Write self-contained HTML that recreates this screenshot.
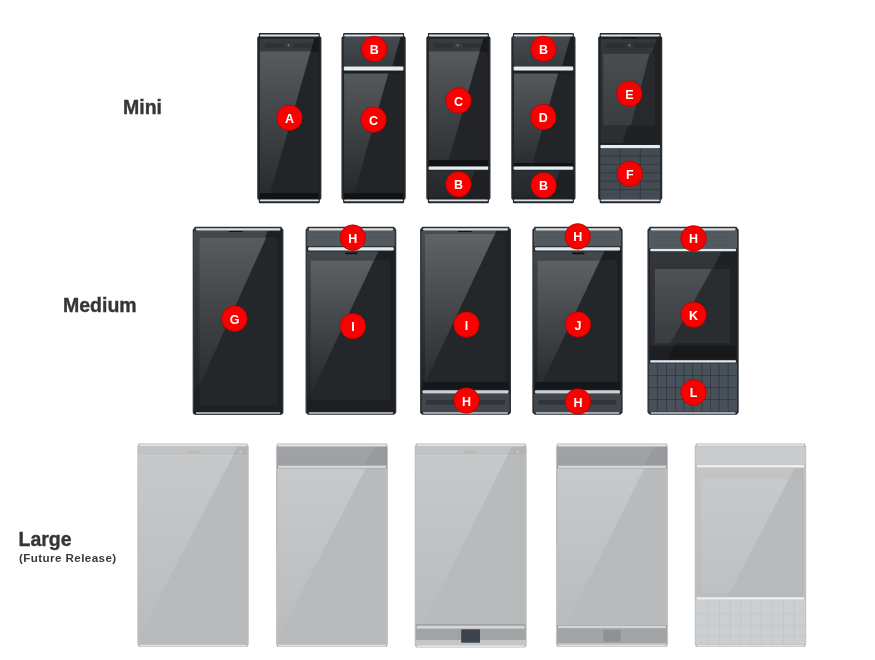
<!DOCTYPE html><html><head><meta charset="utf-8"><style>html,body{margin:0;padding:0;background:#fff;overflow:hidden}svg{display:block;filter:blur(0.45px)}</style></head><body><svg width="875" height="660" viewBox="0 0 875 660"><defs><clipPath id="c1"><rect x="259.8" y="38.4" width="59.0" height="154.9" rx="0"/></clipPath><linearGradient id="g1" x1="0" y1="0" x2="0" y2="1"><stop offset="0" stop-color="#5c5f62"/><stop offset="1" stop-color="#292c2f"/></linearGradient><clipPath id="c2"><rect x="343.6" y="36.8" width="60.0" height="29.60000000000001" rx="1.5"/></clipPath><linearGradient id="g2" x1="0" y1="0" x2="0" y2="1"><stop offset="0" stop-color="#454a50"/><stop offset="1" stop-color="#363b40"/></linearGradient><clipPath id="c3"><rect x="344.1" y="71" width="59.0" height="122.30000000000001" rx="0"/></clipPath><linearGradient id="g3" x1="0" y1="0" x2="0" y2="1"><stop offset="0" stop-color="#575a5d"/><stop offset="1" stop-color="#26292c"/></linearGradient><clipPath id="c4"><rect x="428.9" y="38.4" width="59.0" height="124.6" rx="0"/></clipPath><linearGradient id="g4" x1="0" y1="0" x2="0" y2="1"><stop offset="0" stop-color="#5c5f62"/><stop offset="1" stop-color="#2e3134"/></linearGradient><clipPath id="c5"><rect x="428.4" y="171" width="60.0" height="26.5" rx="1.5"/></clipPath><linearGradient id="g5" x1="0" y1="0" x2="0" y2="1"><stop offset="0" stop-color="#2c2f33"/><stop offset="1" stop-color="#25282b"/></linearGradient><clipPath id="c6"><rect x="513.4" y="36.8" width="60.0" height="29.60000000000001" rx="1.5"/></clipPath><linearGradient id="g6" x1="0" y1="0" x2="0" y2="1"><stop offset="0" stop-color="#454a50"/><stop offset="1" stop-color="#363b40"/></linearGradient><clipPath id="c7"><rect x="513.9" y="71" width="59.0" height="92" rx="0"/></clipPath><linearGradient id="g7" x1="0" y1="0" x2="0" y2="1"><stop offset="0" stop-color="#575a5d"/><stop offset="1" stop-color="#2b2e31"/></linearGradient><clipPath id="c8"><rect x="513.4" y="171" width="60.0" height="26.5" rx="1.5"/></clipPath><linearGradient id="g8" x1="0" y1="0" x2="0" y2="1"><stop offset="0" stop-color="#2c2f33"/><stop offset="1" stop-color="#25282b"/></linearGradient><clipPath id="c9"><rect x="600.7" y="38.4" width="59.0" height="104.6" rx="0"/></clipPath><linearGradient id="g9" x1="0" y1="0" x2="0" y2="1"><stop offset="0" stop-color="#34373a"/><stop offset="1" stop-color="#2b2e31"/></linearGradient><clipPath id="c10"><rect x="603.2" y="53.6" width="52.0" height="71.9" rx="0"/></clipPath><linearGradient id="g10" x1="0" y1="0" x2="0" y2="1"><stop offset="0" stop-color="#4a4d50"/><stop offset="1" stop-color="#3a3d40"/></linearGradient><clipPath id="c11"><rect x="194.0" y="230.5" width="88.10000000000002" height="181.5" rx="0"/></clipPath><linearGradient id="g11" x1="0" y1="0" x2="0" y2="1"><stop offset="0" stop-color="#46494c"/><stop offset="1" stop-color="#1c1f21"/></linearGradient><clipPath id="c12"><rect x="199.3" y="237.2" width="78.5" height="167.8" rx="0"/></clipPath><linearGradient id="g12" x1="0" y1="0" x2="0" y2="1"><stop offset="0" stop-color="#595c5f"/><stop offset="1" stop-color="#232628"/></linearGradient><clipPath id="c13"><rect x="306.9" y="251.2" width="88.10000000000002" height="159.8" rx="0"/></clipPath><linearGradient id="g13" x1="0" y1="0" x2="0" y2="1"><stop offset="0" stop-color="#45484b"/><stop offset="1" stop-color="#1d1f22"/></linearGradient><clipPath id="c14"><rect x="310.7" y="260.2" width="80.0" height="140.3" rx="0"/></clipPath><linearGradient id="g14" x1="0" y1="0" x2="0" y2="1"><stop offset="0" stop-color="#5e6164"/><stop offset="1" stop-color="#232628"/></linearGradient><clipPath id="c15"><rect x="421.2" y="230.5" width="88.60000000000002" height="159.5" rx="0"/></clipPath><linearGradient id="g15" x1="0" y1="0" x2="0" y2="1"><stop offset="0" stop-color="#4a4d50"/><stop offset="1" stop-color="#1f2224"/></linearGradient><clipPath id="c16"><rect x="425" y="234" width="80.5" height="148" rx="0"/></clipPath><linearGradient id="g16" x1="0" y1="0" x2="0" y2="1"><stop offset="0" stop-color="#606366"/><stop offset="1" stop-color="#2a2d2f"/></linearGradient><clipPath id="c17"><rect x="533.7" y="251.2" width="87.59999999999991" height="138.8" rx="0"/></clipPath><linearGradient id="g17" x1="0" y1="0" x2="0" y2="1"><stop offset="0" stop-color="#45484b"/><stop offset="1" stop-color="#1f2224"/></linearGradient><clipPath id="c18"><rect x="537.5" y="260.2" width="79.5" height="121.80000000000001" rx="0"/></clipPath><linearGradient id="g18" x1="0" y1="0" x2="0" y2="1"><stop offset="0" stop-color="#5e6164"/><stop offset="1" stop-color="#2a2d2f"/></linearGradient><clipPath id="c19"><rect x="650.1" y="252" width="86.0" height="108" rx="0"/></clipPath><linearGradient id="g19" x1="0" y1="0" x2="0" y2="1"><stop offset="0" stop-color="#34373a"/><stop offset="1" stop-color="#26292c"/></linearGradient><clipPath id="c20"><rect x="654.8000000000001" y="268.9" width="75.5" height="74.60000000000002" rx="0"/></clipPath><linearGradient id="g20" x1="0" y1="0" x2="0" y2="1"><stop offset="0" stop-color="#4f5255"/><stop offset="1" stop-color="#393c3f"/></linearGradient><clipPath id="c21"><rect x="138.3" y="446.5" width="109.5" height="198.5" rx="0"/></clipPath><linearGradient id="g21" x1="0" y1="0" x2="0" y2="1"><stop offset="0" stop-color="#c8c9ca"/><stop offset="1" stop-color="#babbbc"/></linearGradient><clipPath id="c22"><rect x="277" y="446.5" width="110" height="18.5" rx="0"/></clipPath><linearGradient id="g22" x1="0" y1="0" x2="0" y2="1"><stop offset="0" stop-color="#a1a3a5"/><stop offset="1" stop-color="#9d9fa2"/></linearGradient><clipPath id="c23"><rect x="278" y="468.5" width="108" height="175.5" rx="0"/></clipPath><linearGradient id="g23" x1="0" y1="0" x2="0" y2="1"><stop offset="0" stop-color="#c8c9ca"/><stop offset="1" stop-color="#babbbc"/></linearGradient><clipPath id="c24"><rect x="415.7" y="446.5" width="110.00000000000006" height="177.70000000000005" rx="0"/></clipPath><linearGradient id="g24" x1="0" y1="0" x2="0" y2="1"><stop offset="0" stop-color="#c8c9ca"/><stop offset="1" stop-color="#babbbc"/></linearGradient><clipPath id="c25"><rect x="557" y="446.5" width="110" height="18.5" rx="0"/></clipPath><linearGradient id="g25" x1="0" y1="0" x2="0" y2="1"><stop offset="0" stop-color="#a1a3a5"/><stop offset="1" stop-color="#9d9fa2"/></linearGradient><clipPath id="c26"><rect x="558" y="468.5" width="108" height="156.5" rx="0"/></clipPath><linearGradient id="g26" x1="0" y1="0" x2="0" y2="1"><stop offset="0" stop-color="#c8c9ca"/><stop offset="1" stop-color="#babbbc"/></linearGradient><clipPath id="c27"><rect x="696.7" y="468" width="107.5" height="129" rx="0"/></clipPath><linearGradient id="g27" x1="0" y1="0" x2="0" y2="1"><stop offset="0" stop-color="#c3c4c5"/><stop offset="1" stop-color="#bcbdbe"/></linearGradient><clipPath id="c28"><rect x="701.3000000000001" y="478.3" width="100.0" height="114.99999999999994" rx="0"/></clipPath><linearGradient id="g28" x1="0" y1="0" x2="0" y2="1"><stop offset="0" stop-color="#c8c9ca"/><stop offset="1" stop-color="#bfc0c1"/></linearGradient></defs><rect width="875" height="660" fill="#ffffff"/>
<text x="123" y="113.5" font-family="Liberation Sans, sans-serif" font-weight="bold" font-size="19.5" fill="#353535" stroke="#353535" stroke-width="0.35">Mini</text>
<text x="63" y="312" font-family="Liberation Sans, sans-serif" font-weight="bold" font-size="19.5" fill="#353535" stroke="#353535" stroke-width="0.35">Medium</text>
<text x="18.5" y="546" font-family="Liberation Sans, sans-serif" font-weight="bold" font-size="19.5" fill="#353535" stroke="#353535" stroke-width="0.35">Large</text>
<text x="19" y="561.8" font-family="Liberation Sans, sans-serif" font-weight="bold" font-size="11.6" letter-spacing="0.42" fill="#3a3a3a">(Future Release)</text>
<rect x="257.3" y="36" width="64.00" height="164.00" rx="2.5" fill="#1f2225" />
<g clip-path="url(#c1)"><rect x="259.8" y="38.4" width="59.0" height="154.9" fill="#222427"/><polygon points="209.8,38.4 314.3,38.4 270.15,193.3 209.8,193.3" fill="url(#g1)"/></g>
<rect x="259.8" y="38.4" width="59.00" height="13.10" rx="0" fill="#0a0c0e" fill-opacity="0.42"/>
<rect x="264.8" y="43.2" width="19.50" height="4.60" rx="0" fill="#15181b" fill-opacity="0.25"/>
<rect x="293.3" y="43.2" width="20.00" height="4.60" rx="0" fill="#15181b" fill-opacity="0.25"/>
<circle cx="288.5" cy="45.2" r="1" fill="#7a7d80"/>
<rect x="259.8" y="193.3" width="59.00" height="6.00" rx="0" fill="#101214" />
<rect x="257.3" y="37" width="0.90" height="162.00" rx="0" fill="#4a4e52" fill-opacity="0.6"/>
<rect x="320.40000000000003" y="37" width="0.90" height="162.00" rx="0" fill="#4a4e52" fill-opacity="0.45"/>
<rect x="258.8" y="33" width="61.00" height="3.80" rx="1" fill="#25282c" />
<rect x="259.8" y="34.6" width="59.00" height="1.80" rx="0.8" fill="#dde4e8" />
<rect x="258.8" y="199.2" width="61.00" height="4.00" rx="1" fill="#25282c" />
<rect x="259.8" y="199.4" width="59.00" height="1.90" rx="0.8" fill="#dde4e8" />
<rect x="341.6" y="36" width="64.00" height="164.00" rx="2.5" fill="#1f2225" />
<g clip-path="url(#c2)"><rect x="343.6" y="36.8" width="60.0" height="29.60000000000001" fill="#1c1f22"/><polygon points="293.6,36.8 400.6,36.8 392.16,66.4 293.6,66.4" fill="url(#g2)"/></g>
<rect x="343.1" y="66.2" width="61.00" height="4.80" rx="1" fill="#25282c" />
<rect x="343.8" y="66.6" width="59.60" height="3.80" rx="1" fill="#e6edf1" />
<g clip-path="url(#c3)"><rect x="344.1" y="71" width="59.0" height="122.30000000000001" fill="#222427"/><polygon points="294.1,71 389.0,71 354.14,193.3 294.1,193.3" fill="url(#g3)"/></g>
<rect x="344.1" y="71" width="59.00" height="2.50" rx="0" fill="#1c1e20" />
<rect x="344.1" y="193.3" width="59.00" height="6.00" rx="0" fill="#101214" />
<rect x="341.6" y="37" width="0.90" height="162.00" rx="0" fill="#4a4e52" fill-opacity="0.6"/>
<rect x="404.70000000000005" y="37" width="0.90" height="162.00" rx="0" fill="#4a4e52" fill-opacity="0.45"/>
<rect x="343.1" y="33" width="61.00" height="3.80" rx="1" fill="#25282c" />
<rect x="344.1" y="34.6" width="59.00" height="1.80" rx="0.8" fill="#dde4e8" />
<rect x="343.1" y="199.2" width="61.00" height="4.00" rx="1" fill="#25282c" />
<rect x="344.1" y="199.4" width="59.00" height="1.90" rx="0.8" fill="#dde4e8" />
<rect x="426.4" y="36" width="64.00" height="164.00" rx="2.5" fill="#1f2225" />
<g clip-path="url(#c4)"><rect x="428.9" y="38.4" width="59.0" height="124.6" fill="#222427"/><polygon points="378.9,38.4 483.4,38.4 447.89,163 378.9,163" fill="url(#g4)"/></g>
<rect x="428.9" y="38.4" width="59.00" height="13.10" rx="0" fill="#0a0c0e" fill-opacity="0.42"/>
<rect x="433.9" y="43.2" width="19.50" height="4.60" rx="0" fill="#15181b" fill-opacity="0.25"/>
<rect x="462.4" y="43.2" width="20.00" height="4.60" rx="0" fill="#15181b" fill-opacity="0.25"/>
<circle cx="457.59999999999997" cy="45.2" r="1" fill="#7a7d80"/>
<rect x="428.9" y="160" width="59.00" height="6.00" rx="0" fill="#101214" />
<rect x="427.9" y="166" width="61.00" height="4.40" rx="1" fill="#25282c" />
<rect x="428.59999999999997" y="166.5" width="59.60" height="3.20" rx="1" fill="#e6edf1" />
<g clip-path="url(#c5)"><rect x="428.4" y="171" width="60.0" height="26.5" fill="#1e2023"/><polygon points="378.4,171 474.4,171 466.85,197.5 378.4,197.5" fill="url(#g5)"/></g>
<circle cx="458.4" cy="184.25" r="5.5" fill="none" stroke="#4a4e52" stroke-width="0.8"/>
<rect x="426.4" y="37" width="0.90" height="162.00" rx="0" fill="#4a4e52" fill-opacity="0.6"/>
<rect x="489.5" y="37" width="0.90" height="162.00" rx="0" fill="#4a4e52" fill-opacity="0.45"/>
<rect x="427.9" y="33" width="61.00" height="3.80" rx="1" fill="#25282c" />
<rect x="428.9" y="34.6" width="59.00" height="1.80" rx="0.8" fill="#dde4e8" />
<rect x="427.9" y="199.2" width="61.00" height="4.00" rx="1" fill="#25282c" />
<rect x="428.9" y="199.4" width="59.00" height="1.90" rx="0.8" fill="#dde4e8" />
<rect x="511.4" y="36" width="64.00" height="164.00" rx="2.5" fill="#1f2225" />
<g clip-path="url(#c6)"><rect x="513.4" y="36.8" width="60.0" height="29.60000000000001" fill="#1c1f22"/><polygon points="463.4,36.8 570.4,36.8 561.96,66.4 463.4,66.4" fill="url(#g6)"/></g>
<rect x="512.9" y="66.2" width="61.00" height="4.80" rx="1" fill="#25282c" />
<rect x="513.6" y="66.6" width="59.60" height="3.80" rx="1" fill="#e6edf1" />
<g clip-path="url(#c7)"><rect x="513.9" y="71" width="59.0" height="92" fill="#222427"/><polygon points="463.9,71 558.8,71 532.58,163 463.9,163" fill="url(#g7)"/></g>
<rect x="513.9" y="71" width="59.00" height="2.50" rx="0" fill="#1c1e20" />
<rect x="513.9" y="163" width="59.00" height="3.00" rx="0" fill="#101214" />
<rect x="512.9" y="166" width="61.00" height="4.40" rx="1" fill="#25282c" />
<rect x="513.6" y="166.5" width="59.60" height="3.20" rx="1" fill="#e6edf1" />
<g clip-path="url(#c8)"><rect x="513.4" y="171" width="60.0" height="26.5" fill="#1e2023"/><polygon points="463.4,171 559.4,171 551.85,197.5 463.4,197.5" fill="url(#g8)"/></g>
<circle cx="543.4" cy="184.25" r="5.5" fill="none" stroke="#4a4e52" stroke-width="0.8"/>
<rect x="511.4" y="37" width="0.90" height="162.00" rx="0" fill="#4a4e52" fill-opacity="0.6"/>
<rect x="574.5" y="37" width="0.90" height="162.00" rx="0" fill="#4a4e52" fill-opacity="0.45"/>
<rect x="512.9" y="33" width="61.00" height="3.80" rx="1" fill="#25282c" />
<rect x="513.9" y="34.6" width="59.00" height="1.80" rx="0.8" fill="#dde4e8" />
<rect x="512.9" y="199.2" width="61.00" height="4.00" rx="1" fill="#25282c" />
<rect x="513.9" y="199.4" width="59.00" height="1.90" rx="0.8" fill="#dde4e8" />
<rect x="598.2" y="36" width="64.00" height="164.00" rx="2.5" fill="#1f2225" />
<g clip-path="url(#c9)"><rect x="600.7" y="38.4" width="59.0" height="104.6" fill="#1f2124"/><polygon points="550.7,38.4 656.8000000000001,38.4 622.28,143 550.7,143" fill="url(#g9)"/></g>
<g clip-path="url(#c10)"><rect x="603.2" y="53.6" width="52.0" height="71.9" fill="#28292c"/><polygon points="553.2,53.6 649.5,53.6 630.81,125.5 553.2,125.5" fill="url(#g10)"/></g>
<circle cx="629.4000000000001" cy="45.2" r="1" fill="#7a7d80"/>
<rect x="605.7" y="43.2" width="19.50" height="4.60" rx="0" fill="#15181b" fill-opacity="0.25"/>
<rect x="634.2" y="43.2" width="20.00" height="4.60" rx="0" fill="#15181b" fill-opacity="0.25"/>
<rect x="622.2" y="37" width="14.00" height="1.50" rx="0" fill="#111" />
<rect x="599.7" y="144.6" width="61.00" height="4.40" rx="1" fill="#25282c" />
<rect x="600.4000000000001" y="145.1" width="59.60" height="3.20" rx="1" fill="#e6edf1" />
<rect x="600.2" y="149" width="60.00" height="50.20" rx="0" fill="#434a52" />
<rect x="600.2" y="155.6" width="60.00" height="0.80" rx="0" fill="#30363d" />
<rect x="600.2" y="164.0" width="60.00" height="0.80" rx="0" fill="#30363d" />
<rect x="600.2" y="172.4" width="60.00" height="0.80" rx="0" fill="#30363d" />
<rect x="600.2" y="180.79999999999998" width="60.00" height="0.80" rx="0" fill="#30363d" />
<rect x="600.2" y="189.2" width="60.00" height="0.80" rx="0" fill="#30363d" />
<rect x="619.8000000000001" y="149" width="0.80" height="50.20" rx="0" fill="#30363d" />
<rect x="639.8000000000001" y="149" width="0.80" height="50.20" rx="0" fill="#30363d" />
<rect x="598.2" y="37" width="0.90" height="162.00" rx="0" fill="#4a4e52" fill-opacity="0.6"/>
<rect x="661.3000000000001" y="37" width="0.90" height="162.00" rx="0" fill="#4a4e52" fill-opacity="0.45"/>
<rect x="599.7" y="33" width="61.00" height="3.80" rx="1" fill="#25282c" />
<rect x="600.7" y="34.6" width="59.00" height="1.80" rx="0.8" fill="#dde4e8" />
<rect x="599.7" y="199.2" width="61.00" height="4.00" rx="1" fill="#25282c" />
<rect x="600.7" y="199.4" width="59.00" height="1.90" rx="0.8" fill="#dde4e8" />
<rect x="192.8" y="228" width="90.50" height="186.50" rx="2.5" fill="#1f2225" />
<g clip-path="url(#c11)"><rect x="194.0" y="230.5" width="88.10000000000002" height="181.5" fill="#1e2123"/><polygon points="144.0,230.5 267.9,230.5 186.22,412 144.0,412" fill="url(#g11)"/></g>
<g clip-path="url(#c12)"><rect x="199.3" y="237.2" width="78.5" height="167.8" fill="#24272a"/><polygon points="149.3,237.2 266.4,237.2 190.89,405 149.3,405" fill="url(#g12)"/></g>
<rect x="228.8" y="230.6" width="14.00" height="1.40" rx="0" fill="#111" />
<rect x="192.8" y="229.8" width="1.00" height="182.70" rx="0" fill="#4a4e52" fill-opacity="0.7"/>
<rect x="282.3" y="229.8" width="1.00" height="182.70" rx="0" fill="#4a4e52" fill-opacity="0.5"/>
<rect x="194.3" y="226.8" width="87.50" height="3.60" rx="1" fill="#2c2f33" />
<rect x="195.8" y="228.20000000000002" width="84.50" height="2.20" rx="0.8" fill="#d9e0e5" />
<rect x="194.3" y="412.0" width="87.50" height="2.70" rx="1" fill="#25282c" />
<rect x="195.8" y="412.3" width="84.50" height="1.40" rx="0.8" fill="#c7ced3" />
<rect x="305.7" y="228" width="90.50" height="186.00" rx="2.5" fill="#1f2225" />
<rect x="307.2" y="229.4" width="87.50" height="17.20" rx="1" fill="#555c62" />
<rect x="308.7" y="230.4" width="84.50" height="0.60" rx="0" fill="#4d545a" />
<rect x="308.7" y="232.0" width="84.50" height="0.60" rx="0" fill="#4d545a" />
<rect x="308.7" y="233.6" width="84.50" height="0.60" rx="0" fill="#4d545a" />
<rect x="308.7" y="235.20000000000002" width="84.50" height="0.60" rx="0" fill="#4d545a" />
<rect x="308.7" y="236.8" width="84.50" height="0.60" rx="0" fill="#4d545a" />
<rect x="308.7" y="238.4" width="84.50" height="0.60" rx="0" fill="#4d545a" />
<rect x="308.7" y="240.0" width="84.50" height="0.60" rx="0" fill="#4d545a" />
<rect x="308.7" y="241.6" width="84.50" height="0.60" rx="0" fill="#4d545a" />
<rect x="308.7" y="243.20000000000002" width="84.50" height="0.60" rx="0" fill="#4d545a" />
<rect x="308.7" y="244.8" width="84.50" height="0.60" rx="0" fill="#4d545a" />
<rect x="307.2" y="246.6" width="87.50" height="4.60" rx="1" fill="#25282c" />
<rect x="308.2" y="247.2" width="85.50" height="3.40" rx="1" fill="#e3eaef" />
<g clip-path="url(#c13)"><rect x="306.9" y="251.2" width="88.10000000000002" height="159.8" fill="#1c1e20"/><polygon points="256.9,251.2 378.5,251.2 303.39,411 256.9,411" fill="url(#g13)"/></g>
<g clip-path="url(#c14)"><rect x="310.7" y="260.2" width="80.0" height="140.3" fill="#24272a"/><polygon points="260.7,260.2 374.0,260.2 308.06,400.5 260.7,400.5" fill="url(#g14)"/></g>
<rect x="345.2" y="252.5" width="12.50" height="1.70" rx="0" fill="#0e0f10" />
<rect x="305.7" y="229.8" width="1.00" height="182.70" rx="0" fill="#4a4e52" fill-opacity="0.7"/>
<rect x="395.2" y="229.8" width="1.00" height="182.70" rx="0" fill="#4a4e52" fill-opacity="0.5"/>
<rect x="307.2" y="226.8" width="87.50" height="3.60" rx="1" fill="#2c2f33" />
<rect x="308.7" y="228.20000000000002" width="84.50" height="2.20" rx="0.8" fill="#d9e0e5" />
<rect x="307.2" y="412.0" width="87.50" height="2.70" rx="1" fill="#25282c" />
<rect x="308.7" y="412.3" width="84.50" height="1.40" rx="0.8" fill="#c7ced3" />
<rect x="420" y="228" width="91.00" height="186.00" rx="2.5" fill="#1f2225" />
<g clip-path="url(#c15)"><rect x="421.2" y="230.5" width="88.60000000000002" height="159.5" fill="#1e2123"/><polygon points="371.2,230.5 496.7,230.5 421.74,390 371.2,390" fill="url(#g15)"/></g>
<g clip-path="url(#c16)"><rect x="425" y="234" width="80.5" height="148" fill="#24272a"/><polygon points="375,234 494.9,234 425.34,382 375,382" fill="url(#g16)"/></g>
<rect x="422.5" y="382" width="86.00" height="8.00" rx="0" fill="#15181a" />
<rect x="458" y="230.6" width="13.60" height="1.40" rx="0" fill="#111" />
<rect x="421.5" y="389.8" width="88.00" height="4.20" rx="1" fill="#25282c" />
<rect x="422.5" y="390.3" width="86.00" height="3.10" rx="1" fill="#c9d0d6" />
<rect x="421.5" y="394" width="88.00" height="18.30" rx="0" fill="#40464c" />
<rect x="426" y="400" width="79.00" height="4.70" rx="0" fill="#30353a" />
<rect x="420" y="229.8" width="1.00" height="182.70" rx="0" fill="#4a4e52" fill-opacity="0.7"/>
<rect x="510" y="229.8" width="1.00" height="182.70" rx="0" fill="#4a4e52" fill-opacity="0.5"/>
<rect x="421.5" y="226.8" width="88.00" height="3.60" rx="1" fill="#2c2f33" />
<rect x="423" y="228.20000000000002" width="85.00" height="2.20" rx="0.8" fill="#d9e0e5" />
<rect x="421.5" y="412.0" width="88.00" height="2.70" rx="1" fill="#25282c" />
<rect x="423" y="412.3" width="85.00" height="1.40" rx="0.8" fill="#c7ced3" />
<rect x="532.5" y="228" width="90.00" height="186.00" rx="2.5" fill="#1f2225" />
<rect x="534.0" y="229.4" width="87.00" height="17.20" rx="1" fill="#555c62" />
<rect x="535.5" y="230.4" width="84.00" height="0.60" rx="0" fill="#4d545a" />
<rect x="535.5" y="232.0" width="84.00" height="0.60" rx="0" fill="#4d545a" />
<rect x="535.5" y="233.6" width="84.00" height="0.60" rx="0" fill="#4d545a" />
<rect x="535.5" y="235.20000000000002" width="84.00" height="0.60" rx="0" fill="#4d545a" />
<rect x="535.5" y="236.8" width="84.00" height="0.60" rx="0" fill="#4d545a" />
<rect x="535.5" y="238.4" width="84.00" height="0.60" rx="0" fill="#4d545a" />
<rect x="535.5" y="240.0" width="84.00" height="0.60" rx="0" fill="#4d545a" />
<rect x="535.5" y="241.6" width="84.00" height="0.60" rx="0" fill="#4d545a" />
<rect x="535.5" y="243.20000000000002" width="84.00" height="0.60" rx="0" fill="#4d545a" />
<rect x="535.5" y="244.8" width="84.00" height="0.60" rx="0" fill="#4d545a" />
<rect x="534.0" y="246.6" width="87.00" height="4.60" rx="1" fill="#25282c" />
<rect x="535.0" y="247.2" width="85.00" height="3.40" rx="1" fill="#e3eaef" />
<g clip-path="url(#c17)"><rect x="533.7" y="251.2" width="87.59999999999991" height="138.8" fill="#1c1e20"/><polygon points="483.70000000000005,251.2 604.5,251.2 539.26,390 483.70000000000005,390" fill="url(#g17)"/></g>
<g clip-path="url(#c18)"><rect x="537.5" y="260.2" width="79.5" height="121.80000000000001" fill="#24272a"/><polygon points="487.5,260.2 600.0,260.2 542.75,382 487.5,382" fill="url(#g18)"/></g>
<rect x="572.0" y="252.5" width="12.50" height="1.70" rx="0" fill="#0e0f10" />
<rect x="535.0" y="382" width="85.00" height="8.00" rx="0" fill="#15181a" />
<rect x="534.0" y="389.8" width="87.00" height="4.20" rx="1" fill="#25282c" />
<rect x="535.0" y="390.3" width="85.00" height="3.10" rx="1" fill="#c9d0d6" />
<rect x="534.0" y="394" width="87.00" height="18.30" rx="0" fill="#40464c" />
<rect x="538.5" y="400" width="78.00" height="4.70" rx="0" fill="#30353a" />
<rect x="532.5" y="229.8" width="1.00" height="182.70" rx="0" fill="#4a4e52" fill-opacity="0.7"/>
<rect x="621.5" y="229.8" width="1.00" height="182.70" rx="0" fill="#4a4e52" fill-opacity="0.5"/>
<rect x="534.0" y="226.8" width="87.00" height="3.60" rx="1" fill="#2c2f33" />
<rect x="535.5" y="228.20000000000002" width="84.00" height="2.20" rx="0.8" fill="#d9e0e5" />
<rect x="534.0" y="412.0" width="87.00" height="2.70" rx="1" fill="#25282c" />
<rect x="535.5" y="412.3" width="84.00" height="1.40" rx="0.8" fill="#c7ced3" />
<rect x="647.6" y="228" width="91.00" height="186.00" rx="2.5" fill="#1f2225" />
<rect x="649.1" y="229.4" width="88.00" height="19.20" rx="1" fill="#555c62" />
<rect x="650.6" y="230.4" width="85.00" height="0.60" rx="0" fill="#4d545a" />
<rect x="650.6" y="232.0" width="85.00" height="0.60" rx="0" fill="#4d545a" />
<rect x="650.6" y="233.6" width="85.00" height="0.60" rx="0" fill="#4d545a" />
<rect x="650.6" y="235.20000000000002" width="85.00" height="0.60" rx="0" fill="#4d545a" />
<rect x="650.6" y="236.8" width="85.00" height="0.60" rx="0" fill="#4d545a" />
<rect x="650.6" y="238.4" width="85.00" height="0.60" rx="0" fill="#4d545a" />
<rect x="650.6" y="240.0" width="85.00" height="0.60" rx="0" fill="#4d545a" />
<rect x="650.6" y="241.6" width="85.00" height="0.60" rx="0" fill="#4d545a" />
<rect x="650.6" y="243.20000000000002" width="85.00" height="0.60" rx="0" fill="#4d545a" />
<rect x="650.6" y="244.8" width="85.00" height="0.60" rx="0" fill="#4d545a" />
<rect x="650.6" y="246.4" width="85.00" height="0.60" rx="0" fill="#4d545a" />
<rect x="649.1" y="248.4" width="88.00" height="3.60" rx="1" fill="#25282c" />
<rect x="650.1" y="248.8" width="86.00" height="2.50" rx="1" fill="#e3eaef" />
<g clip-path="url(#c19)"><rect x="650.1" y="252" width="86.0" height="108" fill="#1f2123"/><polygon points="600.1,252 721.2,252 667.20,360 600.1,360" fill="url(#g19)"/></g>
<g clip-path="url(#c20)"><rect x="654.8000000000001" y="268.9" width="75.5" height="74.60000000000002" fill="#2a2d30"/><polygon points="604.8000000000001,268.9 712.0,268.9 670.22,343.5 604.8000000000001,343.5" fill="url(#g20)"/></g>
<rect x="650.1" y="346" width="86.00" height="13.80" rx="0" fill="#000" fill-opacity="0.25"/>
<rect x="649.1" y="359.8" width="88.00" height="3.40" rx="1" fill="#25282c" />
<rect x="650.1" y="360.2" width="86.00" height="2.40" rx="1" fill="#e3eaef" />
<rect x="649.1" y="363.2" width="88.00" height="48.60" rx="0" fill="#48505a" />
<rect x="649.1" y="375.25" width="88.00" height="0.70" rx="0" fill="#2e343a" />
<rect x="649.1" y="387.25" width="88.00" height="0.70" rx="0" fill="#2e343a" />
<rect x="649.1" y="399.25" width="88.00" height="0.70" rx="0" fill="#2e343a" />
<rect x="656.9499999999999" y="363.2" width="0.70" height="48.60" rx="0" fill="#2e343a" />
<rect x="666.05" y="363.2" width="0.70" height="48.60" rx="0" fill="#2e343a" />
<rect x="675.25" y="363.2" width="0.70" height="48.60" rx="0" fill="#2e343a" />
<rect x="683.75" y="363.2" width="0.70" height="48.60" rx="0" fill="#2e343a" />
<rect x="692.35" y="363.2" width="0.70" height="48.60" rx="0" fill="#2e343a" />
<rect x="701.55" y="363.2" width="0.70" height="48.60" rx="0" fill="#2e343a" />
<rect x="710.05" y="363.2" width="0.70" height="48.60" rx="0" fill="#2e343a" />
<rect x="718.65" y="363.2" width="0.70" height="48.60" rx="0" fill="#2e343a" />
<rect x="727.75" y="363.2" width="0.70" height="48.60" rx="0" fill="#2e343a" />
<rect x="647.6" y="229.8" width="1.00" height="182.70" rx="0" fill="#4a4e52" fill-opacity="0.7"/>
<rect x="737.6" y="229.8" width="1.00" height="182.70" rx="0" fill="#4a4e52" fill-opacity="0.5"/>
<rect x="649.1" y="226.8" width="88.00" height="3.60" rx="1" fill="#2c2f33" />
<rect x="650.6" y="228.20000000000002" width="85.00" height="2.20" rx="0.8" fill="#d9e0e5" />
<rect x="649.1" y="412.0" width="88.00" height="2.70" rx="1" fill="#25282c" />
<rect x="650.6" y="412.3" width="85.00" height="1.40" rx="0.8" fill="#c7ced3" />
<rect x="137.3" y="445" width="111.50" height="201.00" rx="2" fill="#bfc0c1" />
<g clip-path="url(#c21)"><rect x="138.3" y="446.5" width="109.5" height="198.5" fill="#b9babb"/><polygon points="88.30000000000001,446.5 237.70000000000002,446.5 134.48,645 88.30000000000001,645" fill="url(#g21)"/></g>
<rect x="138.3" y="446.5" width="109.50" height="8.50" rx="0" fill="#000" fill-opacity="0.03"/>
<rect x="143.3" y="455" width="100.50" height="0.60" rx="0" fill="#fff" fill-opacity="0.12"/>
<rect x="186.3" y="451.6" width="13.00" height="1.00" rx="0" fill="#b0b1b2" />
<circle cx="240.3" cy="451.7" r="1.1" fill="#cfd0d1"/>
<rect x="138.3" y="443.5" width="109.50" height="3.20" rx="1" fill="#b4b5b6" />
<rect x="139.3" y="444.3" width="107.50" height="2.00" rx="0.8" fill="#e2e3e4" />
<rect x="138.3" y="644.4" width="109.50" height="2.60" rx="1" fill="#b4b5b6" />
<rect x="139.3" y="644.8" width="107.50" height="1.60" rx="0.8" fill="#e2e3e4" />
<rect x="276" y="445" width="112.00" height="201.00" rx="2" fill="#bfc0c1" />
<g clip-path="url(#c22)"><rect x="277" y="446.5" width="110" height="18.5" fill="#989a9d"/><polygon points="227,446.5 374,446.5 364.75,465 227,465" fill="url(#g22)"/></g>
<rect x="277" y="465" width="110.00" height="3.50" rx="0" fill="#999b9d" />
<rect x="278" y="465.6" width="108.00" height="2.40" rx="0" fill="#d3d4d5" />
<g clip-path="url(#c23)"><rect x="278" y="468.5" width="108" height="175.5" fill="#b9babb"/><polygon points="228,468.5 365.7,468.5 274.44,644 228,644" fill="url(#g23)"/></g>
<rect x="277" y="443.5" width="110.00" height="3.20" rx="1" fill="#b4b5b6" />
<rect x="278" y="444.3" width="108.00" height="2.00" rx="0.8" fill="#e2e3e4" />
<rect x="277" y="644.4" width="110.00" height="2.60" rx="1" fill="#b4b5b6" />
<rect x="278" y="644.8" width="108.00" height="1.60" rx="0.8" fill="#e2e3e4" />
<rect x="414.7" y="445" width="112.00" height="202.00" rx="2" fill="#bfc0c1" />
<g clip-path="url(#c24)"><rect x="415.7" y="446.5" width="110.00000000000006" height="177.70000000000005" fill="#b9babb"/><polygon points="365.7,446.5 512.0,446.5 423.15,624.2 365.7,624.2" fill="url(#g24)"/></g>
<rect x="415.7" y="446.5" width="110.00" height="8.50" rx="0" fill="#000" fill-opacity="0.03"/>
<rect x="420.7" y="455" width="101.00" height="0.60" rx="0" fill="#fff" fill-opacity="0.12"/>
<rect x="463.7" y="451.6" width="13.00" height="1.00" rx="0" fill="#b0b1b2" />
<circle cx="517.7" cy="451.7" r="1.1" fill="#cfd0d1"/>
<rect x="415.7" y="624.2" width="110.00" height="5.00" rx="0" fill="#9a9c9e" />
<rect x="416.7" y="625.7" width="108.00" height="2.90" rx="0" fill="#d5d6d7" />
<rect x="415.7" y="629" width="110.00" height="11.00" rx="0" fill="#a1a3a5" />
<rect x="415.7" y="640" width="110.00" height="5.00" rx="0" fill="#c5c6c7" />
<rect x="461.2" y="629.4" width="18.80" height="13.30" rx="0" fill="#3c434a" />
<rect x="415.7" y="443.5" width="110.00" height="3.20" rx="1" fill="#b4b5b6" />
<rect x="416.7" y="444.3" width="108.00" height="2.00" rx="0.8" fill="#e2e3e4" />
<rect x="415.7" y="644.9" width="110.00" height="2.60" rx="1" fill="#b4b5b6" />
<rect x="416.7" y="645.3" width="108.00" height="1.60" rx="0.8" fill="#e2e3e4" />
<rect x="556" y="445" width="112.00" height="201.00" rx="2" fill="#bfc0c1" />
<g clip-path="url(#c25)"><rect x="557" y="446.5" width="110" height="18.5" fill="#989a9d"/><polygon points="507,446.5 654,446.5 644.75,465 507,465" fill="url(#g25)"/></g>
<rect x="557" y="465" width="110.00" height="3.50" rx="0" fill="#999b9d" />
<rect x="558" y="465.6" width="108.00" height="2.40" rx="0" fill="#d3d4d5" />
<g clip-path="url(#c26)"><rect x="558" y="468.5" width="108" height="156.5" fill="#b9babb"/><polygon points="508,468.5 644.3,468.5 566.05,625 508,625" fill="url(#g26)"/></g>
<rect x="557" y="625" width="110.00" height="3.50" rx="0" fill="#999b9d" />
<rect x="558" y="625.6" width="108.00" height="2.40" rx="0" fill="#d3d4d5" />
<rect x="557" y="628.5" width="110.00" height="14.50" rx="0" fill="#a2a4a6" />
<rect x="603.3" y="630" width="17.40" height="11.70" rx="0" fill="#8e9194" />
<rect x="557" y="443.5" width="110.00" height="3.20" rx="1" fill="#b4b5b6" />
<rect x="558" y="444.3" width="108.00" height="2.00" rx="0.8" fill="#e2e3e4" />
<rect x="557" y="644.4" width="110.00" height="2.60" rx="1" fill="#b4b5b6" />
<rect x="558" y="644.8" width="108.00" height="1.60" rx="0.8" fill="#e2e3e4" />
<rect x="694.7" y="445" width="111.50" height="201.00" rx="2" fill="#bfc0c1" />
<rect x="695.7" y="446.5" width="109.50" height="18.00" rx="0" fill="#c9cbcd" />
<rect x="695.7" y="464.3" width="109.50" height="3.70" rx="0" fill="#b9bbbd" />
<rect x="696.7" y="464.8" width="107.50" height="2.70" rx="0" fill="#eeeeee" />
<g clip-path="url(#c27)"><rect x="696.7" y="468" width="107.5" height="129" fill="#b7b8b9"/><polygon points="646.7,468 794.7,468 727.62,597 646.7,597" fill="url(#g27)"/></g>
<g clip-path="url(#c28)"><rect x="701.3000000000001" y="478.3" width="100.0" height="114.99999999999994" fill="#b9babb"/><polygon points="651.3000000000001,478.3 789.3000000000001,478.3 729.50,593.3 651.3000000000001,593.3" fill="url(#g28)"/></g>
<rect x="695.7" y="596.7" width="109.50" height="3.60" rx="0" fill="#b9bbbd" />
<rect x="696.7" y="597.2" width="107.50" height="2.60" rx="0" fill="#eeeeee" />
<rect x="695.7" y="599.6" width="109.50" height="44.40" rx="0" fill="#cbcfd2" />
<rect x="695.7" y="613.65" width="109.50" height="0.70" rx="0" fill="#c1c4c7" />
<rect x="695.7" y="624.9499999999999" width="109.50" height="0.70" rx="0" fill="#c1c4c7" />
<rect x="695.7" y="636.15" width="109.50" height="0.70" rx="0" fill="#c1c4c7" />
<rect x="708.15" y="599.6" width="0.70" height="44.40" rx="0" fill="#c1c4c7" />
<rect x="719.15" y="599.6" width="0.70" height="44.40" rx="0" fill="#c1c4c7" />
<rect x="730.15" y="599.6" width="0.70" height="44.40" rx="0" fill="#c1c4c7" />
<rect x="740.4499999999999" y="599.6" width="0.70" height="44.40" rx="0" fill="#c1c4c7" />
<rect x="750.65" y="599.6" width="0.70" height="44.40" rx="0" fill="#c1c4c7" />
<rect x="760.9499999999999" y="599.6" width="0.70" height="44.40" rx="0" fill="#c1c4c7" />
<rect x="771.9499999999999" y="599.6" width="0.70" height="44.40" rx="0" fill="#c1c4c7" />
<rect x="782.9499999999999" y="599.6" width="0.70" height="44.40" rx="0" fill="#c1c4c7" />
<rect x="793.9499999999999" y="599.6" width="0.70" height="44.40" rx="0" fill="#c1c4c7" />
<rect x="695.7" y="443.5" width="109.50" height="3.20" rx="1" fill="#b4b5b6" />
<rect x="696.7" y="444.3" width="107.50" height="2.00" rx="0.8" fill="#e2e3e4" />
<rect x="695.7" y="644.4" width="109.50" height="2.60" rx="1" fill="#b4b5b6" />
<rect x="696.7" y="644.8" width="107.50" height="1.60" rx="0.8" fill="#e2e3e4" />
<circle cx="289.4" cy="117.8" r="12.8" fill="#fb0000" stroke="#a00000" stroke-width="0.6"/>
<text x="289.4" y="122.8" font-family="Liberation Sans, sans-serif" font-weight="bold" font-size="12.5" fill="#fff" text-anchor="middle">A</text>
<circle cx="374.2" cy="49" r="12.8" fill="#fb0000" stroke="#a00000" stroke-width="0.6"/>
<text x="374.2" y="54" font-family="Liberation Sans, sans-serif" font-weight="bold" font-size="12.5" fill="#fff" text-anchor="middle">B</text>
<circle cx="373.6" cy="119.6" r="12.8" fill="#fb0000" stroke="#a00000" stroke-width="0.6"/>
<text x="373.6" y="124.6" font-family="Liberation Sans, sans-serif" font-weight="bold" font-size="12.5" fill="#fff" text-anchor="middle">C</text>
<circle cx="458.5" cy="100.5" r="12.8" fill="#fb0000" stroke="#a00000" stroke-width="0.6"/>
<text x="458.5" y="105.5" font-family="Liberation Sans, sans-serif" font-weight="bold" font-size="12.5" fill="#fff" text-anchor="middle">C</text>
<circle cx="458.5" cy="184.2" r="12.8" fill="#fb0000" stroke="#a00000" stroke-width="0.6"/>
<text x="458.5" y="189.2" font-family="Liberation Sans, sans-serif" font-weight="bold" font-size="12.5" fill="#fff" text-anchor="middle">B</text>
<circle cx="543.4" cy="49" r="12.8" fill="#fb0000" stroke="#a00000" stroke-width="0.6"/>
<text x="543.4" y="54" font-family="Liberation Sans, sans-serif" font-weight="bold" font-size="12.5" fill="#fff" text-anchor="middle">B</text>
<circle cx="543.3" cy="117" r="12.8" fill="#fb0000" stroke="#a00000" stroke-width="0.6"/>
<text x="543.3" y="122" font-family="Liberation Sans, sans-serif" font-weight="bold" font-size="12.5" fill="#fff" text-anchor="middle">D</text>
<circle cx="543.6" cy="185.3" r="12.8" fill="#fb0000" stroke="#a00000" stroke-width="0.6"/>
<text x="543.6" y="190.3" font-family="Liberation Sans, sans-serif" font-weight="bold" font-size="12.5" fill="#fff" text-anchor="middle">B</text>
<circle cx="629.3" cy="93.7" r="12.8" fill="#fb0000" stroke="#a00000" stroke-width="0.6"/>
<text x="629.3" y="98.7" font-family="Liberation Sans, sans-serif" font-weight="bold" font-size="12.5" fill="#fff" text-anchor="middle">E</text>
<circle cx="629.8" cy="173.7" r="12.8" fill="#fb0000" stroke="#a00000" stroke-width="0.6"/>
<text x="629.8" y="178.7" font-family="Liberation Sans, sans-serif" font-weight="bold" font-size="12.5" fill="#fff" text-anchor="middle">F</text>
<circle cx="234.5" cy="318.6" r="12.8" fill="#fb0000" stroke="#a00000" stroke-width="0.6"/>
<text x="234.5" y="323.6" font-family="Liberation Sans, sans-serif" font-weight="bold" font-size="12.5" fill="#fff" text-anchor="middle">G</text>
<circle cx="352.8" cy="237.6" r="12.8" fill="#fb0000" stroke="#a00000" stroke-width="0.6"/>
<text x="352.8" y="242.6" font-family="Liberation Sans, sans-serif" font-weight="bold" font-size="12.5" fill="#fff" text-anchor="middle">H</text>
<circle cx="352.9" cy="326.1" r="12.8" fill="#fb0000" stroke="#a00000" stroke-width="0.6"/>
<text x="352.9" y="331.1" font-family="Liberation Sans, sans-serif" font-weight="bold" font-size="12.5" fill="#fff" text-anchor="middle">I</text>
<circle cx="466.5" cy="324.6" r="12.8" fill="#fb0000" stroke="#a00000" stroke-width="0.6"/>
<text x="466.5" y="329.6" font-family="Liberation Sans, sans-serif" font-weight="bold" font-size="12.5" fill="#fff" text-anchor="middle">I</text>
<circle cx="466.5" cy="400.5" r="12.8" fill="#fb0000" stroke="#a00000" stroke-width="0.6"/>
<text x="466.5" y="405.5" font-family="Liberation Sans, sans-serif" font-weight="bold" font-size="12.5" fill="#fff" text-anchor="middle">H</text>
<circle cx="577.7" cy="236.4" r="12.8" fill="#fb0000" stroke="#a00000" stroke-width="0.6"/>
<text x="577.7" y="241.4" font-family="Liberation Sans, sans-serif" font-weight="bold" font-size="12.5" fill="#fff" text-anchor="middle">H</text>
<circle cx="578" cy="324.5" r="12.8" fill="#fb0000" stroke="#a00000" stroke-width="0.6"/>
<text x="578" y="329.5" font-family="Liberation Sans, sans-serif" font-weight="bold" font-size="12.5" fill="#fff" text-anchor="middle">J</text>
<circle cx="577.9" cy="401.5" r="12.8" fill="#fb0000" stroke="#a00000" stroke-width="0.6"/>
<text x="577.9" y="406.5" font-family="Liberation Sans, sans-serif" font-weight="bold" font-size="12.5" fill="#fff" text-anchor="middle">H</text>
<circle cx="693.5" cy="238.4" r="12.8" fill="#fb0000" stroke="#a00000" stroke-width="0.6"/>
<text x="693.5" y="243.4" font-family="Liberation Sans, sans-serif" font-weight="bold" font-size="12.5" fill="#fff" text-anchor="middle">H</text>
<circle cx="693.6" cy="314.7" r="12.8" fill="#fb0000" stroke="#a00000" stroke-width="0.6"/>
<text x="693.6" y="319.7" font-family="Liberation Sans, sans-serif" font-weight="bold" font-size="12.5" fill="#fff" text-anchor="middle">K</text>
<circle cx="693.6" cy="392.4" r="12.8" fill="#fb0000" stroke="#a00000" stroke-width="0.6"/>
<text x="693.6" y="397.4" font-family="Liberation Sans, sans-serif" font-weight="bold" font-size="12.5" fill="#fff" text-anchor="middle">L</text></svg></body></html>
